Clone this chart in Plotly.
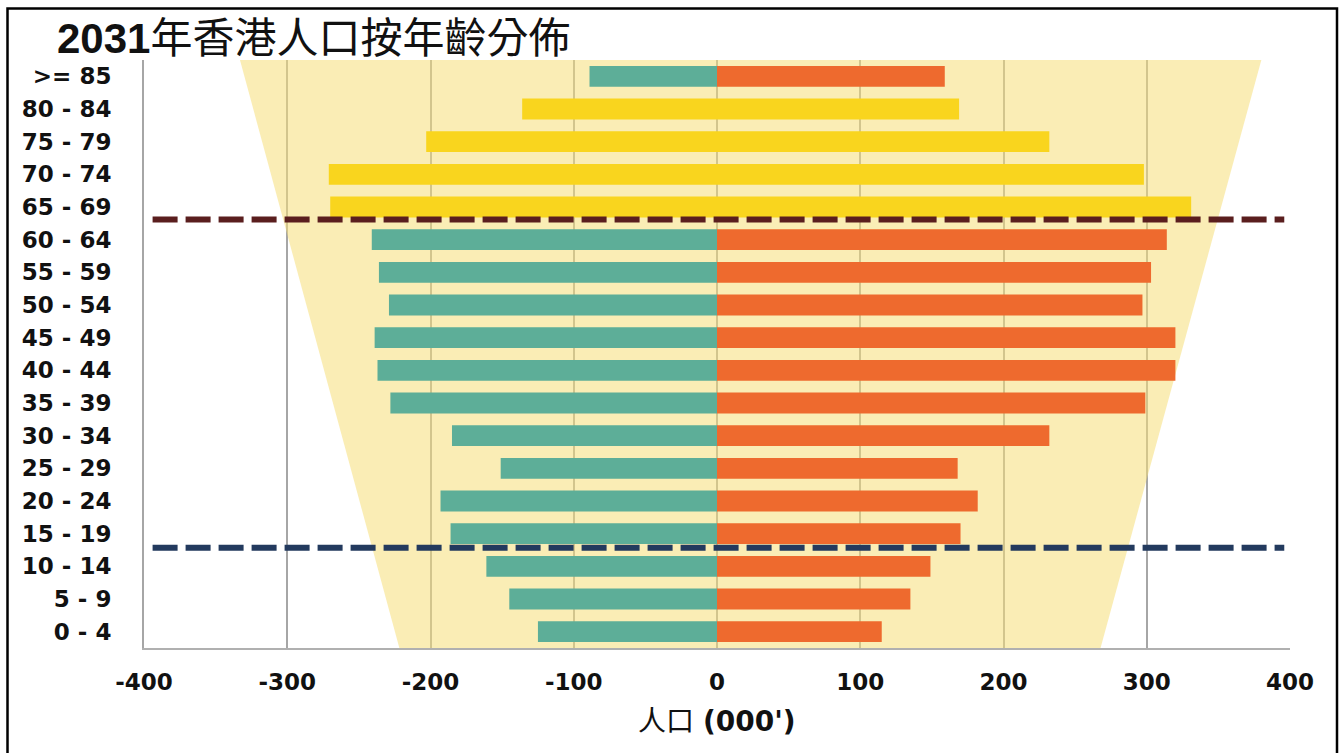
import plotly.graph_objects as go

# Age groups, youngest first
age_groups = ["0 - 4", "5 - 9", "10 - 14", "15 - 19", "20 - 24", "25 - 29",
              "30 - 34", "35 - 39", "40 - 44", "45 - 49", "50 - 54", "55 - 59",
              "60 - 64", "65 - 69", "70 - 74", "75 - 79", "80 - 84", ">= 85"]

# Population in thousands (left side plotted as negative)
left_pop = [-125, -145, -161, -186, -193, -151, -185, -228, -237, -239,
            -229, -236, -241, -270, -271, -203, -136, -89]
right_pop = [115, 135, 149, 170, 182, 168, 232, 299, 320, 320,
             297, 303, 314, 331, 298, 232, 169, 159]

# Groups highlighted in yellow
highlight_groups = ["65 - 69", "70 - 74", "75 - 79", "80 - 84"]

x_ticks = [-400, -300, -200, -100, 0, 100, 200, 300, 400]

TEAL = "#5DAE98"
ORANGE = "#EE6A2E"
YELLOW = "#F9D51E"

W, H = 1340, 753
ML, MR, MT, MB = 144, 50, 60, 105
PW, PH = W - ML - MR, H - MT - MB


def px_x(p):
    return (p - ML) / PW


def px_y(p):
    return (H - MB - p) / PH


ypos = list(range(len(age_groups)))
left_colors = [YELLOW if g in highlight_groups else TEAL for g in age_groups]
right_colors = [YELLOW if g in highlight_groups else ORANGE for g in age_groups]

fig = go.Figure()
fig.add_trace(go.Bar(x=left_pop, y=ypos, orientation="h",
                     marker=dict(color=left_colors, line=dict(width=0)),
                     showlegend=False))
fig.add_trace(go.Bar(x=right_pop, y=ypos, orientation="h",
                     marker=dict(color=right_colors, line=dict(width=0)),
                     showlegend=False))

shapes = []
# Background trapezoid
shapes.append(dict(type="path", xref="x", yref="y", layer="between",
                   path="M -333,17.5 L 380,17.5 L 267,-0.62 L -221,-0.62 Z",
                   fillcolor="rgba(246,222,120,0.55)", line=dict(width=0)))
# Dashed separators
shapes.append(dict(type="line", xref="x", yref="y", x0=-394, x1=396,
                   y0=12.62, y1=12.62, layer="above",
                   line=dict(color="#5A1E1E", width=6, dash="25px,8px")))
shapes.append(dict(type="line", xref="x", yref="y", x0=-394, x1=396,
                   y0=2.57, y1=2.57, layer="above",
                   line=dict(color="#233A5E", width=6, dash="25px,8px")))
# Outer frame
shapes.append(dict(type="rect", xref="paper", yref="paper",
                   x0=px_x(7.5), x1=px_x(1337), y0=px_y(770), y1=px_y(8.5),
                   line=dict(color="#000000", width=2.5), fillcolor="rgba(0,0,0,0)"))

annotations = [
    dict(text="<b>2031</b>年香港人口按年齡分佈", xref="paper", yref="paper",
         x=px_x(55), y=px_y(39), xanchor="left", yanchor="middle",
         showarrow=False,
         font=dict(family="Liberation Sans, Noto Sans CJK TC", size=42, color="#111111")),
    dict(text="人口 <b>(000')</b>", xref="x", yref="paper",
         x=0, y=px_y(721), xanchor="center", yanchor="middle", showarrow=False,
         font=dict(family="DejaVu Sans, Noto Sans CJK TC", size=28, color="#111111")),
]

fig.update_layout(
    width=W, height=H,
    margin=dict(l=ML, r=MR, t=MT, b=MB),
    paper_bgcolor="white", plot_bgcolor="white",
    barmode="overlay", bargap=0.36,
    shapes=shapes, annotations=annotations,
    xaxis=dict(range=[-400, 400], tickvals=x_ticks,
               ticktext=[str(v) for v in x_ticks],
               showgrid=True, gridcolor="#A6A6A6", gridwidth=1.5,
               zeroline=False, showline=True, linecolor="#B0B0B0", linewidth=2,
               ticks="", ticklabelstandoff=12,
               tickfont=dict(family="DejaVu Sans", size=23, color="#111111", weight="bold")),
    yaxis=dict(range=[-0.5, 17.5], tickvals=ypos, ticktext=age_groups,
               showgrid=False, zeroline=False, showline=True,
               linecolor="#A6A6A6", linewidth=2, ticks="", ticklabelstandoff=26,
               tickfont=dict(family="DejaVu Sans", size=23, color="#111111", weight="bold")),
)

fig.write_html("out.html")
